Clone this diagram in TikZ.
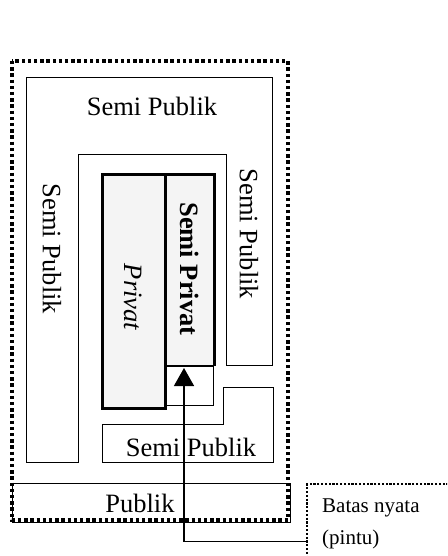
\documentclass[tikz,border=0pt]{standalone}
\usepackage{fontspec}
\setmainfont{Liberation Serif}
\usetikzlibrary{arrows.meta}

\tikzset{
  thinwall/.style={line width=1pt},
  thickwall/.style={line width=3pt},
  dotwall/.style={line width=3.6pt, dash pattern=on 3.4pt off 2.8pt},
  dotbox/.style={draw, line width=2.4pt, dash pattern=on 2.2pt off 1.6pt},
  zonetext/.style={inner sep=0pt, font=\fontsize{26.5}{30}\selectfont},
  roomfill/.style={fill=gray!9}
}

\begin{document}
\begin{tikzpicture}[x=1pt,y=-1pt]
  \useasboundingbox (0,0) rectangle (447,556);
  \clip (0,0) rectangle (447,556);

  % semi publik zones
  \draw[thinwall] (78,462) -- (26,462) -- (26,78) -- (272,78) -- (272,365)
    -- (226,365) -- (226,155) -- (78,155) -- cycle;
  \draw[thinwall] (102,462) -- (273,462) -- (273,387) -- (223,387)
    -- (223,424) -- (102,424) -- cycle;

  % publik
  \draw[thinwall] (12,483) rectangle (290,522);
  \draw[dotwall] (12,61) rectangle (288,520);

  % privat and semi privat
  \draw[thickwall, roomfill] (102,174) rectangle (165,408);
  \fill[roomfill] (165,174) rectangle (214,366);
  \draw[thickwall] (165,366) -- (165,174) -- (214,174) -- (214,366);
  \draw[line width=1.4pt] (165,366) -- (214,366);
  \draw[thinwall] (213,366) -- (213,405) -- (166,405);

  % labels
  \node[zonetext] (spTop) at (152,106) {Semi Publik};
  \node[zonetext, rotate=-90] (spLeft) at (52,249) {Semi Publik};
  \node[zonetext, rotate=-90] (spRight) at (249,234) {Semi Publik};
  \node[zonetext, rotate=-90] (privat) at (133,297) {\itshape Privat};
  \node[zonetext, rotate=-90] (semiprivat) at (190,269) {\bfseries Semi Privat};
  \node[zonetext] (spBottom) at (191,447) {Semi Publik};
  \node[zonetext] (publik) at (140,503) {Publik};

  % batas nyata
  \node[dotbox, minimum width=160pt, minimum height=114pt, anchor=north west]
    (batasbox) at (306,483) {};
  \node[anchor=west, align=left, inner sep=0pt,
    font=\fontsize{21}{32}\selectfont] (batas) at (322,524) {Batas nyata\\(pintu)};
  \coordinate (door) at (184,368);
  \draw[line width=1.4pt, -{Triangle[width=20pt,length=18pt]}]
    (batasbox.west) -| (door);
\end{tikzpicture}
\end{document}
